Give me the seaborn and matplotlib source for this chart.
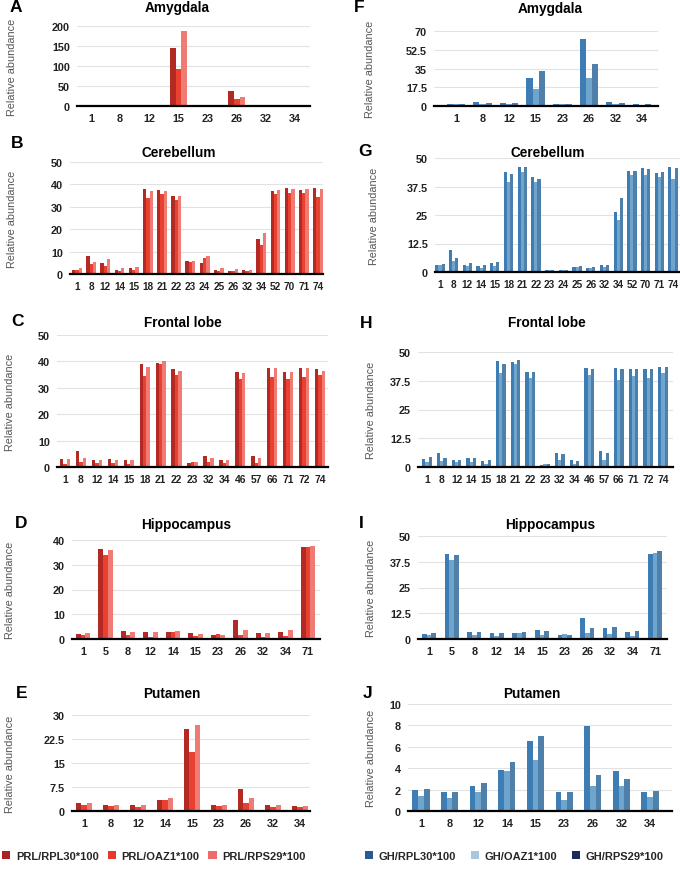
import matplotlib
matplotlib.use("Agg")
import matplotlib.pyplot as plt
from matplotlib.patches import Patch
import seaborn as sns
import pandas as pd

# ---------------- data ----------------
prl_series = ["PRL/RPL30*100", "PRL/OAZ1*100", "PRL/RPS29*100"]
gh_series = ["GH/RPL30*100", "GH/OAZ1*100", "GH/RPS29*100"]

# A  Amygdala (PRL)
amy_cats = ["1", "8", "12", "15", "23", "26", "32", "34"]
amy_prl_rpl30 = [1, 3, 2, 145, 2, 38, 3, 2]
amy_prl_oaz1 = [1, 1, 1, 93, 2, 17, 1, 1]
amy_prl_rps29 = [1, 2, 1, 187, 2, 23, 2, 2]
# F  Amygdala (GH)
amy_gh_rpl30 = [2, 4, 3, 26, 2, 63, 3.5, 2]
amy_gh_oaz1 = [2, 2, 2, 16, 2, 26, 2, 1]
amy_gh_rps29 = [2, 3, 3, 33, 2, 39, 3, 2]

# B  Cerebellum (PRL)
cer_cats = ["1", "8", "12", "14", "15", "18", "21", "22", "23", "24", "25",
            "26", "32", "34", "52", "70", "71", "74"]
cer_prl_rpl30 = [2, 8, 5, 2, 2.5, 38, 37.5, 35, 6, 5, 2, 1.5, 2, 15.5, 37, 38.5, 37.5, 38.5]
cer_prl_oaz1 = [2, 4.5, 3.5, 1.5, 2, 34, 35.5, 33, 5.5, 7, 1.5, 1.5, 1.5, 13, 35.5, 36, 36, 34.5]
cer_prl_rps29 = [2.5, 5.5, 6.5, 2.5, 3, 37, 37, 35, 6, 8, 2.5, 2.2, 2, 18.5, 37.5, 38, 38, 38]
# G  Cerebellum (GH)
cer_gh_rpl30 = [3.2, 9.5, 3.2, 2.5, 3.8, 44, 46, 41.5, 0.8, 0.7, 2, 1.8, 3, 26.5, 44.5, 45.5, 43.5, 46]
cer_gh_oaz1 = [3, 5, 2.5, 1.8, 2.8, 39.5, 44, 39.5, 0.8, 0.8, 2, 1.8, 2.2, 23, 42.5, 42.5, 41.5, 41]
cer_gh_rps29 = [3.5, 6.2, 3.8, 3.2, 4.2, 43, 46, 41, 0.9, 0.9, 2.6, 2.4, 3.2, 32.5, 44.5, 45, 44, 45.5]

# C  Frontal lobe (PRL)
fro_cats = ["1", "8", "12", "14", "15", "18", "21", "22", "23", "32", "34",
            "46", "57", "66", "71", "72", "74"]
fro_prl_rpl30 = [3, 6, 2.5, 3, 2.5, 39, 39.5, 37, 1.5, 4, 2.5, 36, 4, 37.5, 36, 37.5, 37]
fro_prl_oaz1 = [1, 2, 1.5, 1.5, 1.2, 34.5, 39, 35, 2, 2, 1.5, 33.5, 1.5, 34, 33.5, 34, 35]
fro_prl_rps29 = [3, 3.5, 2.5, 2.8, 2.5, 38, 40, 36.5, 1.8, 3.5, 2.5, 35.5, 3.5, 37.5, 36, 37.5, 36.5]
# H  Frontal lobe (GH)
fro_gh_rpl30 = [3.5, 6, 3.2, 3.8, 2.5, 46, 45.5, 41.5, 1, 6, 3, 43, 7, 43, 42.5, 42.5, 43.5]
fro_gh_oaz1 = [2, 2.5, 2.2, 2, 1.5, 41, 45, 38.5, 1.2, 3, 1.5, 40, 3, 38, 39.5, 38.5, 41]
fro_gh_rps29 = [4.2, 4, 3.2, 3.8, 3, 45, 46.5, 41.5, 1.2, 5.5, 2.5, 42.5, 6, 42.5, 42.5, 42.5, 43.5]

# D  Hippocampus (PRL)
hip_cats = ["1", "5", "8", "12", "14", "15", "23", "26", "32", "34", "71"]
hip_prl_rpl30 = [2, 36.5, 3.2, 2.8, 3, 2.5, 1.5, 7.5, 2.5, 3, 37]
hip_prl_oaz1 = [1.8, 34, 1.5, 1, 3, 1.2, 2, 1.8, 1, 1.3, 37]
hip_prl_rps29 = [2.5, 36, 2.8, 3, 3.3, 2.2, 1.8, 3.8, 2.5, 3.5, 37.5]
# I  Hippocampus (GH)
hip_gh_rpl30 = [2.5, 41.5, 3.5, 3, 3, 4.5, 1.8, 10, 5.5, 3.5, 41.5]
hip_gh_oaz1 = [2, 38.5, 2, 1.5, 2.8, 2, 2.2, 2.8, 2.5, 1.5, 41.7]
hip_gh_rps29 = [3, 41, 3.5, 3, 3.2, 4, 2, 5.5, 5.8, 4, 42.5]

# E  Putamen (PRL)
put_cats = ["1", "8", "12", "14", "15", "23", "26", "32", "34"]
put_prl_rpl30 = [2.5, 2, 1.8, 3.5, 25.5, 2, 7, 2, 1.5]
put_prl_oaz1 = [1.8, 1.5, 1.2, 3.5, 18.5, 1.5, 2.5, 1.2, 1.2]
put_prl_rps29 = [2.5, 2, 1.8, 4.2, 27, 2, 4, 1.8, 1.5]
# J  Putamen (GH)
put_gh_rpl30 = [2, 1.8, 2.3, 3.8, 6.5, 1.8, 7.9, 3.7, 1.8]
put_gh_oaz1 = [1.4, 1.2, 1.8, 3.7, 4.8, 1.0, 2.3, 2.3, 1.3]
put_gh_rps29 = [2.1, 1.8, 2.6, 4.6, 7.0, 1.8, 3.4, 3.0, 1.9]

titles = ["Amygdala", "Cerebellum", "Frontal lobe", "Hippocampus", "Putamen"]

# ---------------- style ----------------
sns.set_theme(style="white")
plt.rcParams["font.family"] = ["Liberation Sans", "DejaVu Sans"]

W, H = 680, 870
fig = plt.figure(figsize=(W / 100, H / 100), dpi=100)

prl_bar_colors = ["#b32a24", "#e9412f", "#f07a74"]
gh_bar_colors = ["#3e7db4", "#6fa5cd", "#4f80aa"]
prl_leg_colors = ["#a82424", "#e5392e", "#ee6b6b"]
gh_leg_colors = ["#2a5a91", "#a9c6df", "#1d2b58"]


def fmt(v):
    return str(int(v)) if float(v).is_integer() else f"{v:g}"


panels = [
    ("A", titles[0], amy_cats, [amy_prl_rpl30, amy_prl_oaz1, amy_prl_rps29], prl_series, prl_bar_colors,
     [0, 50, 100, 150, 200], (77, 310, 91, 295, 27, 107), 0.6, 7.8, (16, 7), (177, 8), 12),
    ("F", titles[0], amy_cats, [amy_gh_rpl30, amy_gh_oaz1, amy_gh_rps29], gh_series, gh_bar_colors,
     [0, 17.5, 35, 52.5, 70], (434, 658, 456, 642, 32, 107), 0.7, 7.8, (359, 7), (550, 9), 370),
    ("B", titles[1], cer_cats, [cer_prl_rpl30, cer_prl_oaz1, cer_prl_rps29], prl_series, prl_bar_colors,
     [0, 10, 20, 30, 40, 50], (70, 323, 77, 318, 163, 275), 0.7, 7.2, (17, 143), (179, 153), 12),
    ("G", titles[1], cer_cats, [cer_gh_rpl30, cer_gh_oaz1, cer_gh_rps29], gh_series, gh_bar_colors,
     [0, 12.5, 25, 37.5, 50], (435, 680, 440, 673, 159, 273), 0.68, 7.2, (365, 151), (548, 153), 374),
    ("C", titles[2], fro_cats, [fro_prl_rpl30, fro_prl_oaz1, fro_prl_rps29], prl_series, prl_bar_colors,
     [0, 10, 20, 30, 40, 50], (57, 328, 65, 320, 336, 468), 0.64, 7.4, (18, 322), (183, 323), 10),
    ("H", titles[2], fro_cats, [fro_gh_rpl30, fro_gh_oaz1, fro_gh_rps29], gh_series, gh_bar_colors,
     [0, 12.5, 25, 37.5, 50], (418, 673, 427, 663, 353, 468), 0.65, 7.4, (366, 323), (547, 323), 371),
    ("D", titles[3], hip_cats, [hip_prl_rpl30, hip_prl_oaz1, hip_prl_rps29], prl_series, prl_bar_colors,
     [0, 10, 20, 30, 40], (72, 320, 83, 308, 541, 640), 0.63, 7.8, (21, 524), (186, 525), 10),
    ("I", titles[3], hip_cats, [hip_gh_rpl30, hip_gh_oaz1, hip_gh_rps29], gh_series, gh_bar_colors,
     [0, 12.5, 25, 37.5, 50], (418, 667, 429, 655, 537, 640), 0.62, 7.8, (361, 524), (550, 525), 371),
    ("E", titles[4], put_cats, [put_prl_rpl30, put_prl_oaz1, put_prl_rps29], prl_series, prl_bar_colors,
     [0, 7.5, 15, 22.5, 30], (72, 310, 84, 300, 716, 812), 0.6, 7.8, (22, 693), (172, 694), 10),
    ("J", titles[4], put_cats, [put_gh_rpl30, put_gh_oaz1, put_gh_rps29], gh_series, gh_bar_colors,
     [0, 2, 4, 6, 8, 10], (408, 672, 421, 650, 705, 812), 0.6, 7.8, (368, 693), (532, 694), 371),
]

for (letter, title, cats, vals, names, colors, ticks, geo, bw, xfs,
     lpos, tpos, ylx) in panels:
    x0, x1, c0, c1, yt, yb = geo
    ax = fig.add_axes([x0 / W, 1 - yb / H, (x1 - x0) / W, (yb - yt) / H])
    rows = []
    for name, series in zip(names, vals):
        for c, v in zip(cats, series):
            rows.append({"gene": c, "value": v, "ratio": name})
    df = pd.DataFrame(rows)
    sns.barplot(data=df, x="gene", y="value", hue="ratio", order=cats,
                hue_order=names, palette=colors, width=bw, saturation=1,
                legend=False, errorbar=None, ax=ax, linewidth=0, zorder=3)
    n = len(cats)
    s = (c1 - c0) / (n - 1)
    ax.set_xlim((x0 - c0) / s, (n - 1) + (x1 - c1) / s)
    ax.set_ylim(0, ticks[-1])
    ax.set_yticks(ticks)
    ax.set_yticklabels([fmt(t) for t in ticks], fontsize=7.8, fontweight="bold", color="#222222")
    ax.set_xticks(range(n))
    ax.set_xticklabels(cats, fontsize=xfs, fontweight="bold", color="#222222")
    ax.tick_params(axis="both", length=0, pad=5)
    ax.set_xlabel("")
    ax.set_ylabel("")
    for sp in ["top", "right", "left"]:
        ax.spines[sp].set_visible(False)
    ax.spines["bottom"].set_color("black")
    ax.spines["bottom"].set_linewidth(1.6)
    ax.spines["bottom"].set_zorder(5)
    ax.yaxis.grid(True, color="#e2e2e2", linewidth=0.8, zorder=0)
    ax.set_axisbelow(True)
    ax.patch.set_alpha(0)

    fig.text(lpos[0] / W, 1 - lpos[1] / H, letter, fontsize=12.5, fontweight="bold",
             ha="center", va="center", color="black")
    fig.text(tpos[0] / W, 1 - tpos[1] / H, title, fontsize=9.8, fontweight="bold",
             ha="center", va="center", color="black")
    fig.text(ylx / W, 1 - ((yt + yb) / 2) / H, "Relative abundance", fontsize=7.8,
             rotation=90, ha="center", va="center", color="#555555")

# legends
prl_handles = [Patch(facecolor=c, edgecolor="none") for c in prl_leg_colors]
gh_handles = [Patch(facecolor=c, edgecolor="none") for c in gh_leg_colors]
leg_kw = dict(ncol=3, frameon=False, handlelength=0.75, handleheight=0.75,
              handletextpad=0.5, borderaxespad=0, borderpad=0,
              prop={"weight": "bold", "size": 8}, loc="center left")
fig.legend(prl_handles, prl_series, bbox_to_anchor=(2 / W, 1 - 857 / H),
           columnspacing=0.8, **leg_kw)
fig.legend(gh_handles, gh_series, bbox_to_anchor=(365 / W, 1 - 857 / H),
           columnspacing=1.3, **leg_kw)

fig.savefig("out.png", dpi=100, facecolor="white")
